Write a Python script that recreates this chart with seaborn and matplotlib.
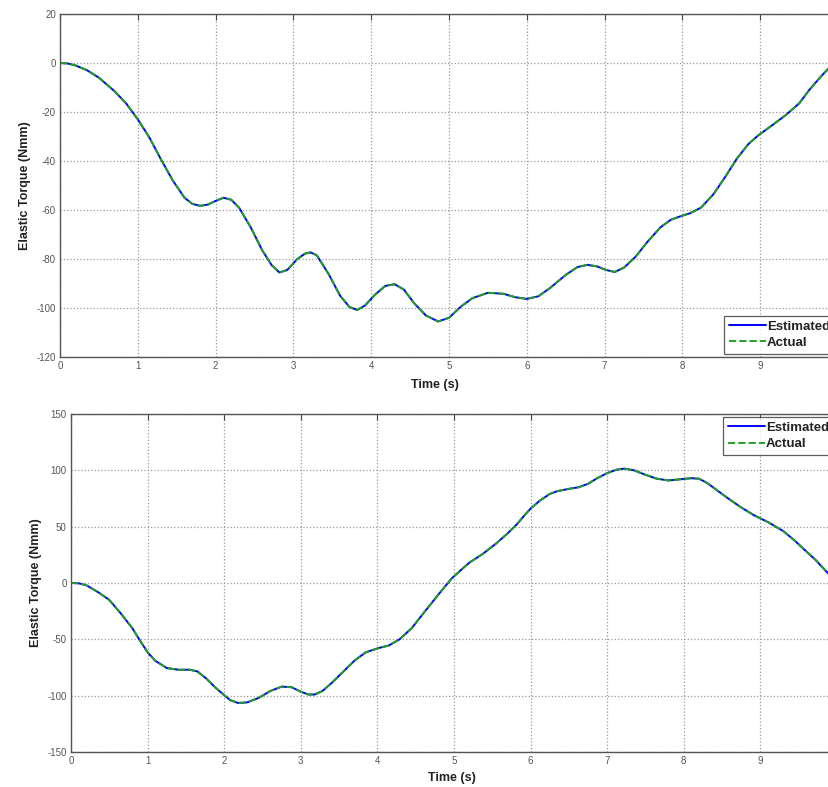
import numpy as np
import pandas as pd
import seaborn as sns
import matplotlib.pyplot as plt

# top panel: elastic torque, joint 1
t_top = [0.0, 0.1, 0.2, 0.35, 0.5, 0.7, 0.85, 1.0, 1.15, 1.3, 1.45, 1.6, 1.7, 1.8, 1.9,
         2.0, 2.1, 2.2, 2.3, 2.45, 2.6, 2.72, 2.82, 2.92, 3.05, 3.15, 3.22, 3.3, 3.45,
         3.6, 3.72, 3.82, 3.92, 4.05, 4.18, 4.3, 4.42, 4.55, 4.7, 4.86, 5.0, 5.15, 5.3,
         5.5, 5.7, 5.85, 6.0, 6.15, 6.3, 6.5, 6.65, 6.78, 6.9, 7.02, 7.13, 7.25, 7.4,
         7.55, 7.72, 7.85, 7.98, 8.1, 8.24, 8.4, 8.55, 8.7, 8.85, 8.98, 9.15, 9.33,
         9.5, 9.63, 9.78, 9.9, 10.0]
est_top = [0.0, -0.2, -1.0, -3.0, -6.0, -11.5, -16.5, -23.0, -30.5, -39.5, -48.0, -55.0,
           -57.5, -58.3, -57.8, -56.3, -55.0, -55.8, -59.0, -67.0, -76.5, -82.5, -85.5,
           -84.5, -80.0, -77.8, -77.3, -78.5, -86.0, -95.0, -99.6, -100.8, -99.0, -94.5,
           -91.0, -90.3, -92.5, -98.0, -103.0, -105.5, -104.0, -99.5, -96.0, -93.8,
           -94.2, -95.6, -96.3, -95.2, -91.8, -86.5, -83.3, -82.4, -83.0, -84.5, -85.3,
           -83.5, -79.0, -73.0, -67.0, -64.0, -62.5, -61.3, -59.0, -53.5, -46.5, -39.0,
           -33.0, -29.4, -25.5, -21.2, -16.5, -11.0, -5.5, -1.5, 2.0]
act_top = list(est_top)

# bottom panel: elastic torque, joint 2
t_bot = [0.0, 0.1, 0.2, 0.35, 0.5, 0.65, 0.8, 0.9, 1.0, 1.1, 1.25, 1.4, 1.55, 1.65, 1.77,
         1.88, 1.99, 2.08, 2.18, 2.3, 2.45, 2.6, 2.75, 2.88, 3.0, 3.1, 3.18, 3.28, 3.4,
         3.55, 3.7, 3.85, 4.03, 4.15, 4.29, 4.45, 4.6, 4.8, 4.97, 5.1, 5.2, 5.38, 5.55,
         5.7, 5.82, 5.92, 6.0, 6.12, 6.25, 6.35, 6.5, 6.63, 6.75, 6.87, 7.0, 7.12, 7.22,
         7.35, 7.5, 7.65, 7.8, 7.95, 8.1, 8.2, 8.3, 8.42, 8.58, 8.75, 8.92, 9.1, 9.3,
         9.45, 9.6, 9.72, 9.85, 10.0]
est_bot = [0.0, -0.3, -2.0, -8.0, -15.0, -27.0, -40.0, -51.0, -61.5, -69.0, -75.5, -77.0,
           -77.0, -78.5, -85.0, -92.5, -99.0, -104.0, -106.5, -106.0, -102.0, -96.0,
           -92.0, -92.5, -96.5, -99.0, -99.0, -96.0, -89.0, -79.0, -69.0, -61.5, -57.5,
           -55.5, -50.0, -40.0, -27.0, -10.0, 4.0, 12.0, 18.0, 26.0, 35.0, 44.0, 52.0,
           60.0, 66.0, 73.0, 79.0, 81.5, 83.5, 85.0, 88.0, 93.0, 97.5, 100.5, 101.5,
           100.0, 96.0, 92.5, 91.0, 92.0, 93.0, 92.5, 89.0, 83.0, 75.0, 67.0, 60.0,
           54.0, 46.0, 37.5, 28.0, 20.5, 11.0, 0.0]
act_bot = list(est_bot)

sns.set_theme(style="white")
plt.rcParams['font.family'] = ['Liberation Sans', 'DejaVu Sans']
plt.rcParams['axes.unicode_minus'] = False

fig = plt.figure(figsize=(8.29, 7.87), dpi=100)
ax1 = fig.add_axes([0.0724, 0.5464, 0.9385, 0.4358])
ax2 = fig.add_axes([0.0856, 0.0445, 0.924, 0.4295])

panels = [
    (ax1, t_top, est_top, act_top, (-120, 20), np.arange(-120, 21, 20), 'lower right',
     (0.482, -0.064)),
    (ax2, t_bot, est_bot, act_bot, (-150, 150), np.arange(-150, 151, 50), 'upper right',
     (0.498, -0.058)),
]

for ax, t, est, act, ylim, yticks, loc, xlab_xy in panels:
    sns.lineplot(x=t, y=est, ax=ax, color='#0000ff', linewidth=1.4,
                 label='Estimated', estimator=None, sort=False)
    sns.lineplot(x=t, y=act, ax=ax, color='#22a022', linewidth=1.4,
                 linestyle='--', label='Actual', estimator=None, sort=False)
    ax.set_xlim(0, 10)
    ax.set_ylim(*ylim)
    ax.set_xticks(range(0, 10))
    ax.set_yticks(yticks)
    ax.grid(True, linestyle=':', color='#9a9a9a', linewidth=0.9)
    ax.tick_params(direction='in', length=4, width=0.8, labelsize=7,
                   labelcolor='#555555', color='#444444', top=True, right=True, pad=3)
    for s in ax.spines.values():
        s.set_color('#555555')
        s.set_linewidth(1.0)
    ax.set_xlabel('Time (s)', fontsize=9, fontweight='bold', color='#222222')
    ax.xaxis.set_label_coords(*xlab_xy)
    ax.set_ylabel('Elastic Torque (Nmm)', fontsize=9, fontweight='bold', color='#222222',
                  labelpad=4)
    leg = ax.legend(loc=loc, fontsize=9.5, frameon=True, fancybox=False, borderaxespad=0.25,
                    handlelength=2.8, handletextpad=0.1, borderpad=0.35, labelspacing=0.3)
    leg.get_frame().set_edgecolor('#333333')
    leg.get_frame().set_linewidth(0.9)
    for txt in leg.get_texts():
        txt.set_fontweight('bold')
        txt.set_color('#222222')

fig.savefig('out.png', dpi=100, facecolor='white')
